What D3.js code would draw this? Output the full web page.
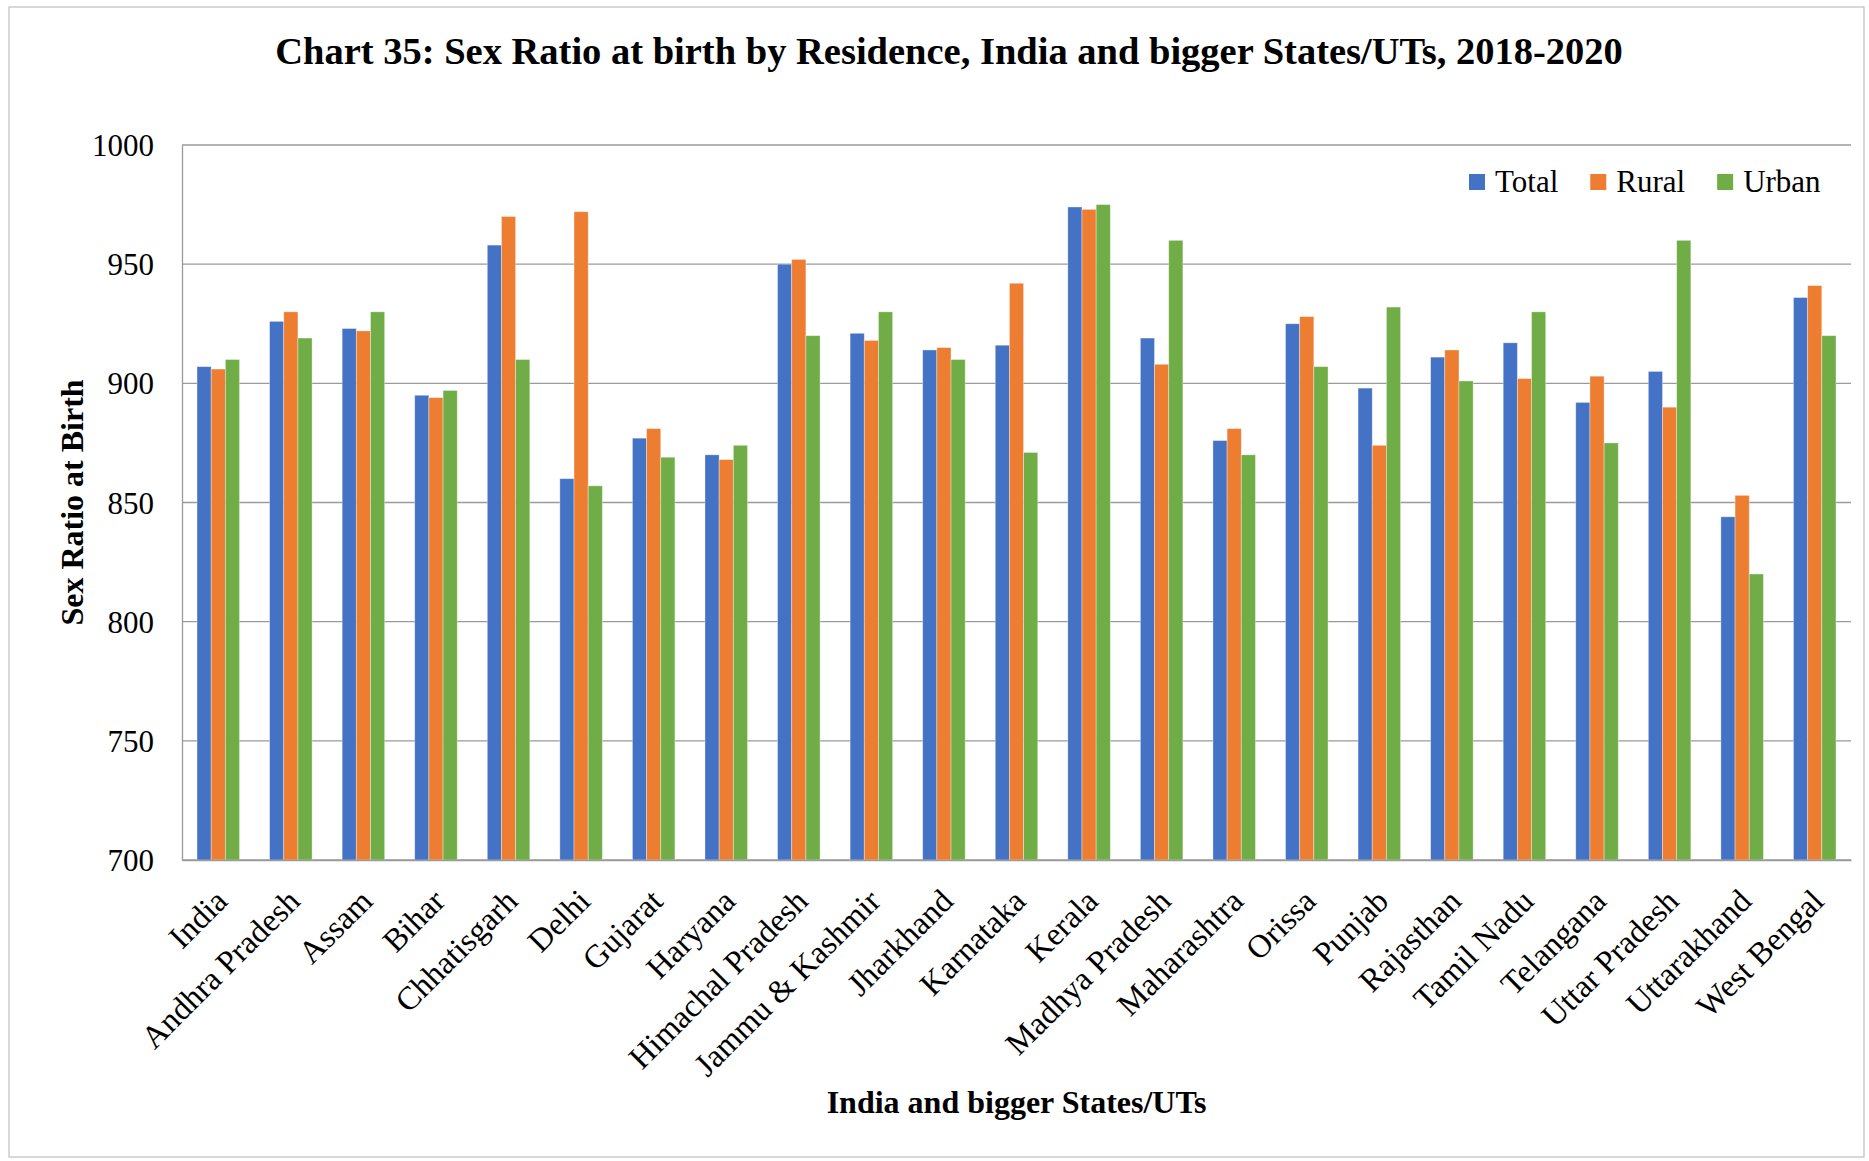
<!DOCTYPE html>
<html>
<head>
<meta charset="utf-8">
<script src="https://cdn.jsdelivr.net/npm/d3@7"></script>
<style>
  html, body { margin: 0; padding: 0; background: #ffffff; }
  svg { display: block; }
  text { font-family: "Liberation Serif", "Times New Roman", serif; fill: #000; }
</style>
</head>
<body>
<svg id="chart" width="1869" height="1161"></svg>
<script>
const categories = ["India","Andhra Pradesh","Assam","Bihar","Chhatisgarh","Delhi","Gujarat","Haryana","Himachal Pradesh","Jammu & Kashmir","Jharkhand","Karnataka","Kerala","Madhya Pradesh","Maharashtra","Orissa","Punjab","Rajasthan","Tamil Nadu","Telangana","Uttar Pradesh","Uttarakhand","West Bengal"];
const seriesNames = ["Total","Rural","Urban"];
const totalValues = [907, 926, 923, 895, 958, 860, 877, 870, 950, 921, 914, 916, 974, 919, 876, 925, 898, 911, 917, 892, 905, 844, 936];
const ruralValues = [906, 930, 922, 894, 970, 972, 881, 868, 952, 918, 915, 942, 973, 908, 881, 928, 874, 914, 902, 903, 890, 853, 941];
const urbanValues = [910, 919, 930, 897, 910, 857, 869, 874, 920, 930, 910, 871, 975, 960, 870, 907, 932, 901, 930, 875, 960, 820, 920];
const yTicks = [700, 750, 800, 850, 900, 950, 1000];
const colors = ["#4472C4", "#ED7D31", "#70AD47"];

const titleText = "Chart 35: Sex Ratio at birth by Residence, India and bigger States/UTs, 2018-2020";
const yTitle = "Sex Ratio at Birth";
const xTitle = "India and bigger States/UTs";

const seriesValues = [totalValues, ruralValues, urbanValues];
const svg = d3.select("#chart");

// chart border
svg.append("rect").attr("x", 9).attr("y", 7).attr("width", 1855).attr("height", 1150)
  .attr("fill", "#fff").attr("stroke", "#bfbfbf").attr("stroke-width", 1.2);

const plot = { left: 182, right: 1851, top: 145, bottom: 860 };

const x0 = d3.scaleBand().domain(categories).range([plot.left, plot.right])
  .paddingInner(0.414).paddingOuter(0.207);
const x1 = d3.scaleBand().domain(seriesNames).range([0, x0.bandwidth()]).padding(0);
const y = d3.scaleLinear().domain([700, 1000]).range([plot.bottom, plot.top]);

// gridlines
svg.append("g").selectAll("line").data(yTicks).join("line")
  .attr("x1", plot.left).attr("x2", plot.right)
  .attr("y1", d => y(d)).attr("y2", d => y(d))
  .attr("stroke", "#9a9a9a").attr("stroke-width", 1.3);

// y axis
const yAxis = d3.axisLeft(y).tickValues(yTicks).tickSize(0).tickPadding(28).tickFormat(d3.format("d"));
const gy = svg.append("g").attr("transform", `translate(${plot.left},0)`).call(yAxis);
gy.select(".domain").attr("stroke", "#9a9a9a").attr("stroke-width", 1.3);
gy.selectAll("text").style("font-size", "31px").style("font-family", "Liberation Serif").attr("dy", "0.34em");

// bars
const groups = svg.append("g").selectAll("g").data(categories).join("g")
  .attr("transform", d => `translate(${x0(d)},0)`);
groups.selectAll("rect").data((d, i) => seriesNames.map((s, j) => ({ s, j, v: seriesValues[j][i] })))
  .join("rect")
  .attr("x", d => x1(d.s))
  .attr("width", x1.bandwidth())
  .attr("y", d => y(d.v))
  .attr("height", d => y(700) - y(d.v))
  .attr("fill", d => colors[d.j])
  .attr("stroke", "#ffffff").attr("stroke-opacity", 0.45).attr("stroke-width", 0.8);

// x axis
const xAxis = d3.axisBottom(x0).tickSize(0).tickPadding(0);
const gx = svg.append("g").attr("transform", `translate(0,${plot.bottom})`).call(xAxis);
gx.select(".domain").attr("stroke", "#9a9a9a").attr("stroke-width", 1.3);
gx.selectAll(".tick text")
  .style("font-size", "32.5px").style("font-family", "Liberation Serif")
  .attr("text-anchor", "end")
  .attr("dy", 0).attr("y", 0)
  .attr("transform", "translate(11,43) rotate(-45)");

// title
svg.append("text").attr("x", 949).attr("y", 64).attr("text-anchor", "middle")
  .style("font-size", "38.5px").style("font-weight", "bold").text(titleText);

// y title
svg.append("text").attr("transform", `translate(83,${(plot.top + plot.bottom) / 2}) rotate(-90)`)
  .attr("text-anchor", "middle").style("font-size", "32px").style("font-weight", "bold").text(yTitle);

// x title
svg.append("text").attr("x", (plot.left + plot.right) / 2).attr("y", 1113).attr("text-anchor", "middle")
  .style("font-size", "32px").style("font-weight", "bold").text(xTitle);

// legend
const legend = svg.append("g");
let lx = 1469;
seriesNames.forEach((s, i) => {
  legend.append("rect").attr("x", lx).attr("y", 174).attr("width", 16).attr("height", 16).attr("fill", colors[i]);
  const t = legend.append("text").attr("x", lx + 26).attr("y", 192).style("font-size", "31px").text(s);
  lx = lx + 26 + t.node().getComputedTextLength() + 32;
});
</script>
</body>
</html>
